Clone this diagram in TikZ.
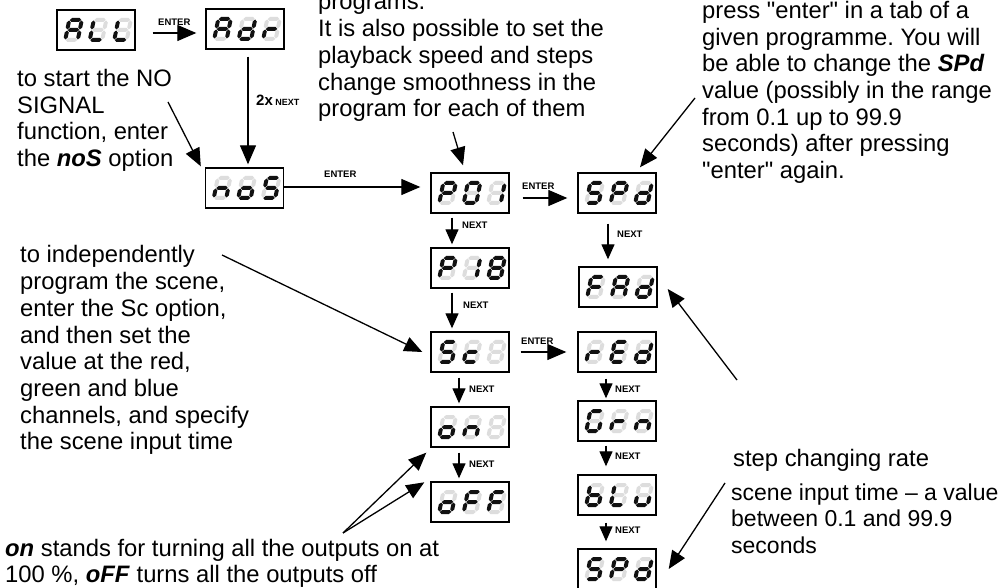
\documentclass[tikz,border=0pt]{standalone}
\usepackage{fontspec}
\setmainfont{Liberation Sans}[Ligatures=TeXOff]
\usetikzlibrary{arrows.meta}
\definecolor{segon}{HTML}{111111}
\definecolor{segoff}{HTML}{DDDDDD}
% segment patterns: a b c d e f g
\def\sgA{1110111}
\def\sgL{0001110}
\def\sgd{0111101}
\def\sgr{0000101}
\def\sgn{0010101}
\def\sgo{0011101}
\def\sgS{1011011}
\def\sgP{1100111}
\def\sgzero{1111110}
\def\sgone{0110000}
\def\sgeight{1111111}
\def\sgc{0001101}
\def\sgblank{0000000}
\def\sgE{1001111}
\def\sgG{1011110}
\def\sgb{0011111}
\def\sgu{0011100}
\def\sgF{1000111}
\newcommand\segfill[2]{\ifnum#1=1 \fill[segon] #2;\else\fill[segoff] #2;\fi}
\def\sevsegparse#1#2#3#4#5#6#7{%
 \segfill{#1}{(-5.75,-10) -- (-3.75,-12) -- (3.75,-12) -- (5.75,-10) -- (3.75,-8) -- (-3.75,-8) -- cycle}%
 \segfill{#2}{(6.25,-9.5) -- (8.25,-7.5) -- (8.25,-2.5) -- (6.25,-0.5) -- (4.25,-2.5) -- (4.25,-7.5) -- cycle}%
 \segfill{#3}{(6.25,0.5) -- (8.25,2.5) -- (8.25,7.5) -- (6.25,9.5) -- (4.25,7.5) -- (4.25,2.5) -- cycle}%
 \segfill{#4}{(-5.75,10) -- (-3.75,8) -- (3.75,8) -- (5.75,10) -- (3.75,12) -- (-3.75,12) -- cycle}%
 \segfill{#5}{(-6.25,0.5) -- (-4.25,2.5) -- (-4.25,7.5) -- (-6.25,9.5) -- (-8.25,7.5) -- (-8.25,2.5) -- cycle}%
 \segfill{#6}{(-6.25,-9.5) -- (-4.25,-7.5) -- (-4.25,-2.5) -- (-6.25,-0.5) -- (-8.25,-2.5) -- (-8.25,-7.5) -- cycle}%
 \segfill{#7}{(-5.75,0) -- (-3.75,-2) -- (3.75,-2) -- (5.75,0) -- (3.75,2) -- (-3.75,2) -- cycle}%
}
\newcommand\sevseg[3]{%
 \begin{scope}[shift={(#1,#2)},xslant=0.2]
 \expandafter\sevsegparse#3
 \end{scope}}
\newcommand\lcd[6]{%
 \node[dispbox] (#1) at (#2,#3) {};
 \begin{scope}[shift={(#1.center)}]
 \sevseg{-22.5}{0}{#4}\sevseg{2}{0}{#5}\sevseg{26.5}{0}{#6}
 \end{scope}}
\tikzset{
 dispbox/.style={draw, line width=1.4pt, minimum width=78pt, minimum height=40pt, inner sep=0pt},
 bigarr/.style={-{Triangle[length=19pt,width=16pt]}, line width=1.3pt},
 smallarr/.style={-{Triangle[length=15pt,width=13pt]}, line width=1.3pt},
 ann/.style={-{Triangle[length=18pt,width=15pt]}, line width=1.3pt},
 txt/.style={anchor=base west, inner sep=0pt, font=\fontsize{23.8}{26.7}\selectfont\frenchspacing},
 lbl/.style={anchor=base west, inner sep=0pt, font=\fontsize{9.5}{10}\selectfont\bfseries},
}
\begin{document}
\begin{tikzpicture}[x=1pt,y=-1pt]
\fill[white] (0,0) rectangle (1005,588);
\useasboundingbox (0,0) rectangle (1005,588);

% displays
\lcd{ALL}{96}{30}{\sgA}{\sgL}{\sgL}
\lcd{Adr}{245}{29}{\sgA}{\sgd}{\sgr}
\lcd{noS}{244.5}{188}{\sgn}{\sgo}{\sgS}
\lcd{P01}{470}{193}{\sgP}{\sgzero}{\sgone}
\lcd{SPdA}{617}{193}{\sgS}{\sgP}{\sgd}
\lcd{P18}{470}{268}{\sgP}{\sgone}{\sgeight}
\lcd{FAd}{618}{287}{\sgF}{\sgA}{\sgd}
\lcd{Sc}{470}{352}{\sgS}{\sgc}{\sgblank}
\lcd{rEd}{617}{352}{\sgr}{\sgE}{\sgd}
\lcd{on}{470}{427}{\sgo}{\sgn}{\sgblank}
\lcd{Grn}{617}{421}{\sgG}{\sgr}{\sgn}
\lcd{oFF}{470}{502}{\sgo}{\sgF}{\sgF}
\lcd{bLu}{617}{495}{\sgb}{\sgL}{\sgu}
\lcd{SPdB}{617}{569}{\sgS}{\sgP}{\sgd}

% flow arrows
\draw[bigarr] ([xshift=17pt,yshift=-3pt]ALL.east) -- ([xshift=-9pt,yshift=-4pt]Adr.west);
\draw[bigarr] ([xshift=3pt,yshift=-7pt]Adr.south) -- ([xshift=3.5pt,yshift=3pt]noS.north);
\draw[bigarr] ([yshift=1pt]noS.east) -- ([xshift=-10pt,yshift=6pt]P01.west);
\draw[bigarr] ([xshift=13pt,yshift=-5pt]P01.east) -- ([xshift=-10pt,yshift=-5pt]SPdA.west);
\draw[bigarr] ([xshift=11pt]Sc.east) -- ([xshift=-11pt]rEd.west);
\draw[smallarr] ([xshift=-18pt,yshift=-4pt]P01.south) -- ([xshift=-18pt,yshift=3pt]P18.north);
\draw[smallarr] ([xshift=-18pt,yshift=-4pt]P18.south) -- ([xshift=-18pt,yshift=3pt]Sc.north);
\draw[smallarr] ([xshift=-11pt,yshift=-5pt]Sc.south) -- ([xshift=-11pt,yshift=3pt]on.north);
\draw[smallarr] ([xshift=-11pt,yshift=-5pt]on.south) -- ([xshift=-11pt,yshift=3pt]oFF.north);
\draw[smallarr] ([xshift=-9pt,yshift=-10pt]SPdA.south) -- ([xshift=-10pt,yshift=7pt]FAd.north);
\draw[smallarr] ([xshift=-11pt,yshift=-6pt]rEd.south) -- ([xshift=-11pt,yshift=2pt]Grn.north);
\draw[smallarr] ([xshift=-11pt,yshift=-4pt]Grn.south) -- ([xshift=-11pt,yshift=8pt]bLu.north);
\draw[smallarr] ([xshift=-11pt,yshift=-7pt]bLu.south) -- ([xshift=-11pt,yshift=7pt]SPdB.north);

% arrow labels
\node[lbl] (l1) at (158,26) {ENTER};
\node[anchor=base west, inner sep=0pt] (l2) at (256,106) {\fontsize{15}{16}\selectfont\bfseries 2x\,\fontsize{9}{10}\selectfont NEXT};
\node[lbl] (l3) at (324,178) {ENTER};
\node[lbl] (l4) at (522,190) {ENTER};
\node[lbl] (l5) at (521,344.3) {ENTER};
\node[lbl] (l6) at (462,229) {NEXT};
\node[lbl] (l7) at (463,309) {NEXT};
\node[lbl] (l8) at (469,392.7) {NEXT};
\node[lbl] (l9) at (469,467.7) {NEXT};
\node[lbl] (l10) at (617,238) {NEXT};
\node[lbl] (l11) at (615,392.7) {NEXT};
\node[lbl] (l12) at (615,459.3) {NEXT};
\node[lbl] (l13) at (615,533.3) {NEXT};

% texts
\node[txt] (tNoS) at (17,86.5) {\begin{tabular}[t]{@{}l@{}}to start the NO\\SIGNAL\\function, enter\\the \textbf{\textit{noS}} option\end{tabular}};
\node[txt] (tProg) at (318,10) {\begin{tabular}[t]{@{}l@{}}programs.\\It is also possible to set the\\playback speed and steps\\change smoothness in the\\program for each of them\end{tabular}};
\node[txt] (tSPd) at (702,18.5) {\begin{tabular}[t]{@{}l@{}}press "enter" in a tab of a\\given programme. You will\\be able to change the \textbf{\textit{SPd}}\\value (possibly in the range\\from 0.1 up to 99.9\\seconds) after pressing\\"enter" again.\end{tabular}};
\node[txt] (tSc) at (20,263) {\begin{tabular}[t]{@{}l@{}}to independently\\program the scene,\\enter the Sc option,\\and then set the\\value at the red,\\green and blue\\channels, and specify\\the scene input time\end{tabular}};
\node[txt] (tFAd) at (733,466.7) {step changing rate};
\node[txt, font=\fontsize{23}{26.7}\selectfont] (tTime) at (731,500) {\begin{tabular}[t]{@{}l@{}}scene input time – a value\\between 0.1 and 99.9\\seconds\end{tabular}};
\node[txt] (tOn) at (5,556) {\begin{tabular}[t]{@{}l@{}}\textbf{\textit{on}} stands for turning all the outputs on at\\100 \%, \textbf{\textit{oFF}} turns all the outputs off\end{tabular}};

% annotation arrows
\coordinate (aNoS) at (168,102);
\draw[ann] (aNoS) -- ([xshift=-4pt,yshift=1pt]noS.north west);
\coordinate (aP01) at (453,132);
\draw[ann] (aP01) -- ([xshift=-7pt,yshift=7pt]P01.north);
\coordinate (aSPd) at (695,98);
\draw[ann] (aSPd) -- ([xshift=23pt,yshift=5pt]SPdA.north);
\coordinate (aSc) at (222,255);
\draw[ann] (aSc) -- ([xshift=-8pt]Sc.west);
\coordinate (aFAd) at (737,380);
\draw[ann] (aFAd) -- ([xshift=10pt,yshift=-2pt]FAd.east);
\coordinate (aSPdB) at (725,483);
\draw[ann] (aSPdB) -- ([xshift=12pt]SPdB.east);
\coordinate (aOn) at (343,533);
\draw[ann] (aOn) -- ([xshift=-4pt,yshift=-5pt]on.south west);
\draw[ann] (aOn) -- ([xshift=-6pt,yshift=-1pt]oFF.north west);
\end{tikzpicture}
\end{document}
